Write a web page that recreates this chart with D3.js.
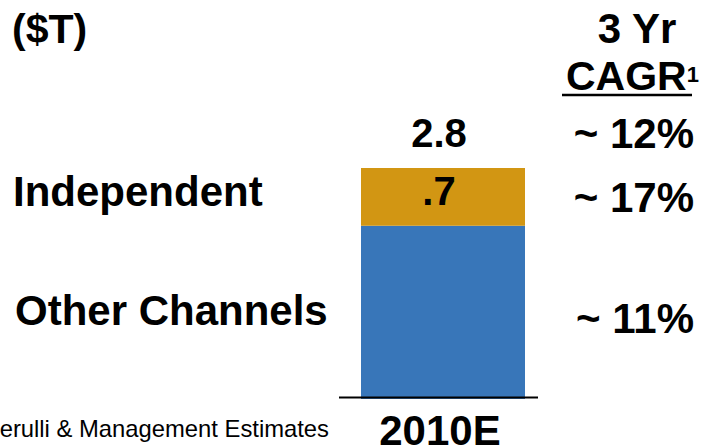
<!DOCTYPE html>
<html>
<head>
<meta charset="utf-8">
<script src="https://cdn.jsdelivr.net/npm/d3@7"></script>
<style>
  html, body { margin: 0; padding: 0; background: #ffffff; }
  svg { display: block; font-family: "Liberation Sans", Arial, sans-serif; }
</style>
</head>
<body>
<svg id="chart" width="706" height="446"></svg>
<script>
// Assets by channel, $ trillions
const categories = ["2010E"];
const seriesNames = ["Other Channels", "Independent"];
const otherChannels = [2.1];
const independent = [0.7];
const totals = [2.8];
const segmentLabels = [".7"];
const totalLabels = ["2.8"];
// 3-year CAGR: total, independent, other channels
const cagrLabels = ["~ 12%", "~ 17%", "~ 11%"];
const colors = ["#3876b9", "#d29613"];

const svg = d3.select("#chart");

const x = d3.scaleBand().domain(categories).range([361, 525]).padding(0);
const y = d3.scaleLinear().domain([0, 2.8]).range([399, 168]);

const rows = categories.map((c, i) => ({
  cat: c,
  "Other Channels": otherChannels[i],
  "Independent": independent[i]
}));
const stacked = d3.stack().keys(seriesNames)(rows);

svg.append("g")
  .selectAll("g")
  .data(stacked)
  .join("g")
  .attr("fill", (d, i) => colors[i])
  .selectAll("rect")
  .data(d => d)
  .join("rect")
  .attr("x", d => x(d.data.cat))
  .attr("width", x.bandwidth())
  .attr("y", d => y(d[1]))
  .attr("height", d => y(d[0]) - y(d[1]));

// baseline
svg.append("line")
  .attr("x1", 339).attr("x2", 538)
  .attr("y1", y(0) - 1.5).attr("y2", y(0) - 1.5)
  .attr("stroke", "#000").attr("stroke-width", 2);

const bold = sel => sel.attr("font-weight", "bold").attr("fill", "#000");

// category label
svg.selectAll(".cat")
  .data(categories)
  .join("text")
  .attr("class", "cat")
  .attr("x", d => x(d) + x.bandwidth() / 2 - 3)
  .attr("y", 445)
  .attr("text-anchor", "middle")
  .attr("font-size", 42)
  .call(bold)
  .text(d => d);

// total label above bar
svg.selectAll(".total")
  .data(totals)
  .join("text")
  .attr("class", "total")
  .attr("x", (d, i) => x(categories[i]) + x.bandwidth() / 2 - 4)
  .attr("y", d => y(d) - 21)
  .attr("text-anchor", "middle")
  .attr("font-size", 40)
  .call(bold)
  .text((d, i) => totalLabels[i]);

// independent segment label
svg.selectAll(".seg")
  .data(independent)
  .join("text")
  .attr("class", "seg")
  .attr("x", (d, i) => x(categories[i]) + x.bandwidth() / 2 - 4)
  .attr("y", (d, i) => y(totals[i]) + 37)
  .attr("text-anchor", "middle")
  .attr("font-size", 40)
  .call(bold)
  .text((d, i) => segmentLabels[i]);

// unit label
svg.append("text")
  .attr("x", 12).attr("y", 43)
  .attr("font-size", 41)
  .call(bold)
  .text("($T)");

// series labels on the left
const seriesLabelPos = [
  { name: "Independent", x: 13, y: 206 },
  { name: "Other Channels", x: 15, y: 325 }
];
svg.selectAll(".series")
  .data(seriesLabelPos)
  .join("text")
  .attr("class", "series")
  .attr("x", d => d.x)
  .attr("y", d => d.y)
  .attr("font-size", 42)
  .call(bold)
  .text(d => d.name);

// CAGR header
svg.append("text")
  .attr("x", 637).attr("y", 43)
  .attr("text-anchor", "middle")
  .attr("font-size", 42)
  .call(bold)
  .text("3 Yr");

const cagrHead = svg.append("text")
  .attr("x", 566).attr("y", 90)
  .attr("font-size", 41)
  .call(bold);
cagrHead.append("tspan").text("CAGR");
cagrHead.append("tspan")
  .attr("font-size", 22)
  .attr("dy", -8)
  .text("1");

svg.append("line")
  .attr("x1", 562).attr("x2", 692)
  .attr("y1", 95).attr("y2", 95)
  .attr("stroke", "#000").attr("stroke-width", 2.5);

// CAGR values
const cagrY = [148, 212, 333];
svg.selectAll(".cagr")
  .data(cagrLabels)
  .join("text")
  .attr("class", "cagr")
  .attr("x", 694)
  .attr("y", (d, i) => cagrY[i])
  .attr("text-anchor", "end")
  .attr("font-size", 42)
  .call(bold)
  .text(d => d);

// source note
svg.append("text")
  .attr("x", 329).attr("y", 437)
  .attr("text-anchor", "end")
  .attr("font-size", 23.8)
  .attr("fill", "#000")
  .text("Source: Cerulli & Management Estimates");
</script>
</body>
</html>
